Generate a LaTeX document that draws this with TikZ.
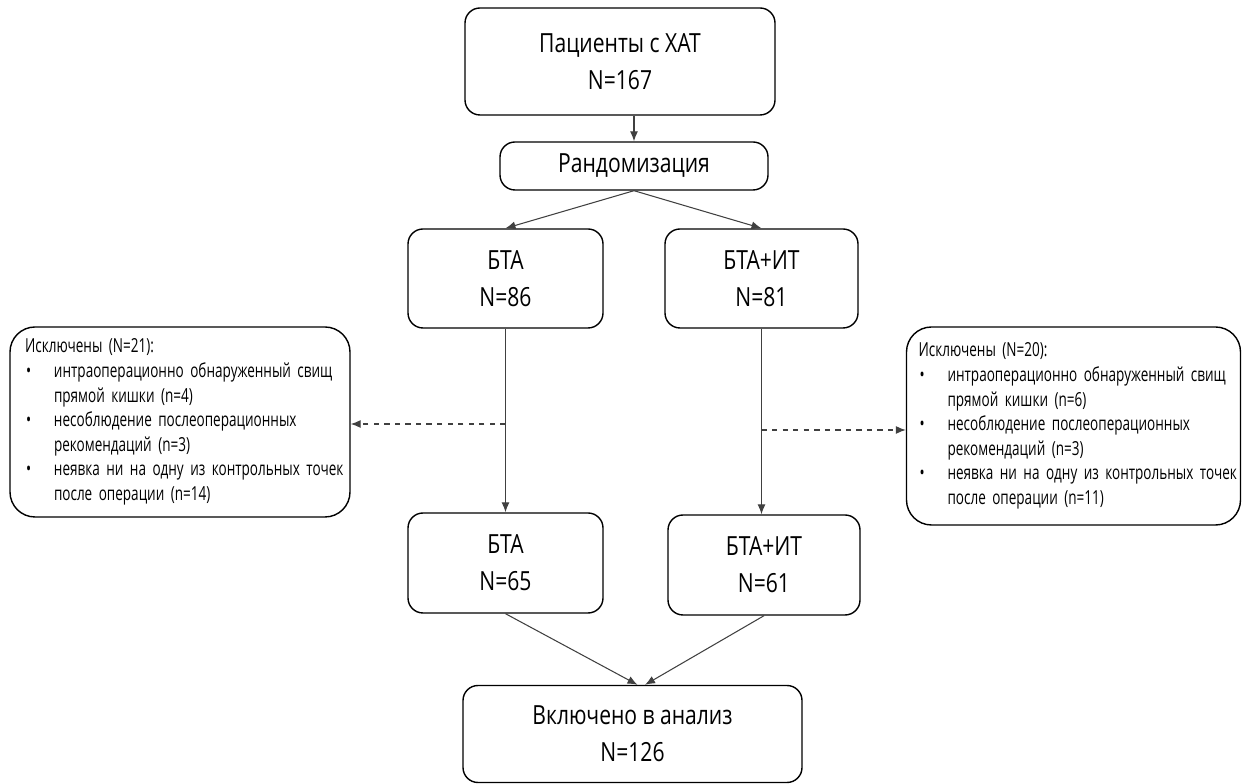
\documentclass[tikz,border=0pt]{standalone}
\usepackage{fontspec}
\setmainfont{Open Sans}[FakeStretch=0.8]
\newfontfamily\narrowfont{Open Sans}[FakeStretch=0.7]
\usetikzlibrary{arrows.meta,positioning}
\newcommand{\bitem}[1]{\hspace*{0.2mm}\makebox[5.6mm][l]{\textbullet}\mbox{#1}}
\newcommand{\bcont}[1]{\hspace*{5.8mm}\mbox{#1}}
\tikzset{
  box/.style={draw, rounded corners=3mm, line width=0.8pt, align=center,
    font=\fontsize{15}{21}\selectfont},
  exclbox/.style={draw, rounded corners=5mm, line width=0.8pt, align=left,
    text width=6.2cm, inner xsep=0.3cm, font=\narrowfont\fontsize{11}{14}\selectfont},
  arr/.style={-{Latex[length=2mm,width=1.6mm]}, draw=black!75, line width=0.6pt},
  dasharr/.style={arr, dashed}
}
\begin{document}
\begin{tikzpicture}
    \useasboundingbox (0,0) rectangle (25,15.68);
    \node[box, minimum width=6.2cm, minimum height=2.14cm] (pat) at (12.4,14.45) {Пациенты с ХАТ\\N=167};
    \node[box, minimum width=5.36cm, minimum height=0.96cm] (rand) at (12.68,12.36) {Рандомизация};
    \node[box, minimum width=3.9cm, minimum height=1.98cm] (bta) at (10.11,10.11) {БТА\\N=86};
    \node[box, minimum width=3.86cm, minimum height=1.98cm] (btait) at (15.23,10.11) {БТА+ИТ\\N=81};
    \node[box, minimum width=3.9cm, minimum height=2cm] (btaend) at (10.11,4.42) {БТА\\N=65};
    \node[box, minimum width=3.84cm, minimum height=2cm] (btaitend) at (15.28,4.38) {БТА+ИТ\\N=61};
    \node[box, minimum width=6.78cm, minimum height=1.94cm] (incl) at (12.65,1.0) {Включено в анализ\\N=126};
    \node[exclbox, minimum height=3.8cm] (exl) at (3.6,7.24) {Исключены (N=21):\\
        \bitem{интраоперационно обнаруженный свищ}\\
        \bcont{прямой кишки (n=4)}\\
        \bitem{несоблюдение послеоперационных}\\
        \bcont{рекомендаций (n=3)}\\
        \bitem{неявка ни на одну из контрольных точек}\\
        \bcont{после операции (n=14)}};
    \node[exclbox, minimum height=3.96cm, inner xsep=0.24cm] (exr) at (21.47,7.16) {Исключены (N=20):\\
        \bitem{интраоперационно обнаруженный свищ}\\
        \bcont{прямой кишки (n=6)}\\
        \bitem{несоблюдение послеоперационных}\\
        \bcont{рекомендаций (n=3)}\\
        \bitem{неявка ни на одну из контрольных точек}\\
        \bcont{после операции (n=11)}};
    % arrows
    \draw[arr] (rand.north |- pat.south) -- (rand.north);
    \draw[arr] (rand.south) -- (bta.north);
    \draw[arr] (rand.south) -- (btait.north);
    \draw[arr] (bta.south) -- (btaend.north);
    \draw[arr] (btait.south) -- (btait.south |- btaitend.north);
    \coordinate (dl) at (10.11,7.2);
    \coordinate (dr) at (15.23,7.08);
    \draw[dasharr] (dl) -- (dl -| exl.east);
    \draw[dasharr] (dr) -- (dr -| exr.west);
    \draw[arr] (btaend.south) -- ([xshift=1mm]incl.north);
    \draw[arr] (btaitend.south) -- ([xshift=2.5mm]incl.north);
\end{tikzpicture}
\end{document}
